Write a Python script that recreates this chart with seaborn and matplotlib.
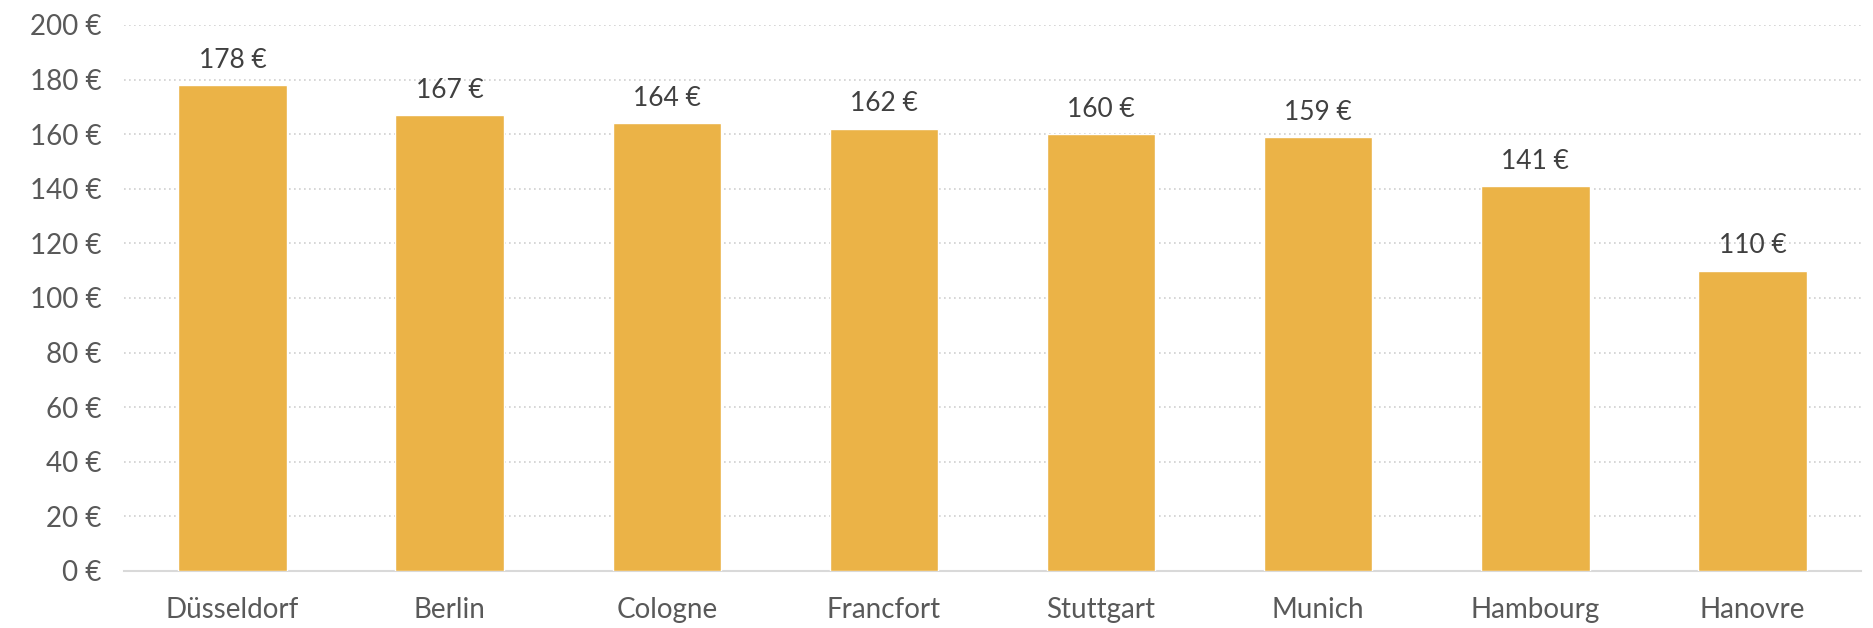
import matplotlib
matplotlib.use("Agg")
import matplotlib.pyplot as plt
import seaborn as sns
import pandas as pd

# data
cities = ["Düsseldorf", "Berlin", "Cologne", "Francfort", "Stuttgart", "Munich", "Hambourg", "Hanovre"]
prices = [178, 167, 164, 162, 160, 159, 141, 110]
yticks = [0, 20, 40, 60, 80, 100, 120, 140, 160, 180, 200]

sns.set_theme(style="white")
plt.rcParams["font.family"] = ["Lato", "DejaVu Sans"]

df = pd.DataFrame({"city": cities, "price": prices})

fig = plt.figure(figsize=(18.73, 6.28), dpi=100)
ax = fig.add_axes([0.0662, 0.0908, 0.9274, 0.8694])

sns.barplot(data=df, x="city", y="price", color="#EBB347", width=0.5,
            saturation=1, ax=ax, zorder=3)

ax.set_ylim(0, 200)
ax.set_xlim(-0.5, len(cities) - 0.5)
ax.set_yticks(yticks)
ax.set_yticklabels([f"{v} €" for v in yticks])
ax.set_xlabel("")
ax.set_ylabel("")

ax.yaxis.grid(True, linestyle=(0, (1, 2)), color="#D0D0D0", linewidth=1.2, zorder=0)
for s in ["top", "right", "left"]:
    ax.spines[s].set_visible(False)
ax.spines["bottom"].set_color("#D9D9D9")
ax.spines["bottom"].set_linewidth(1.5)

ax.tick_params(axis="both", length=0, labelsize=20, labelcolor="#595959")
ax.tick_params(axis="y", pad=16)
ax.tick_params(axis="x", pad=19)

# value labels above bars
for i, v in enumerate(prices):
    ax.text(i, v + 4.5, f"{v} €", ha="center", va="bottom", fontsize=19, color="#404040")

fig.savefig("out.png", dpi=100)
